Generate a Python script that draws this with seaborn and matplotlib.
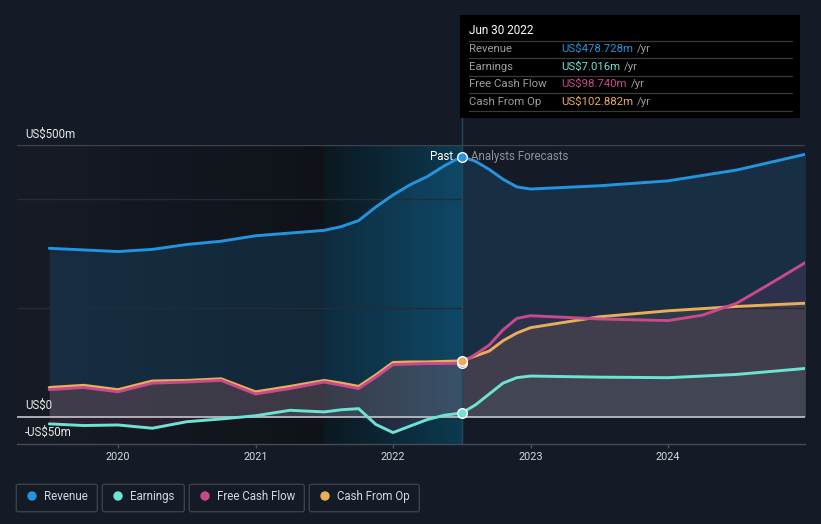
import numpy as np
import pandas as pd
import matplotlib
matplotlib.use("Agg")
import matplotlib.pyplot as plt
import seaborn as sns
from matplotlib.patches import FancyBboxPatch, Rectangle, Circle
from matplotlib.colors import LinearSegmentedColormap

# ---------------- data (US$ m) ----------------
past_years = [2019.5, 2019.75, 2020.0, 2020.25, 2020.5, 2020.75, 2021.0,
              2021.25, 2021.5, 2021.625, 2021.75, 2021.875, 2022.0, 2022.125,
              2022.25, 2022.375, 2022.5]
revenue_past = [310, 307, 304, 308, 317, 323, 333, 338, 343, 350, 361, 386, 408, 427,
                442, 462, 478.728]
earnings_past = [-13, -16, -15, -21, -9, -4, 2, 12, 9, 13, 15, -14, -29, -17,
                 -5, 3, 7.016]
fcf_past = [50, 54, 46, 62, 64, 67, 42, 52, 64, 58, 52, 73, 96, 97,
            98, 98, 98.740]
cfo_past = [54, 58, 50, 66, 67, 70, 46, 56, 67, 62, 56, 77, 100, 101,
            101, 102, 102.882]

fc_years = [2022.6, 2022.7, 2022.8, 2022.9, 2023.0, 2023.5, 2024.0, 2024.5, 2025.0]
revenue_fc = [470, 455, 437, 423, 419, 425, 434, 454, 483]
earnings_fc = [22, 42, 62, 72, 75, 73, 72, 78, 89]
cfo_fc = [112, 121, 140, 154, 164, 184, 195, 203, 209]
fcf_fc_years = [2022.6, 2022.7, 2022.8, 2022.9, 2023.0, 2023.5, 2024.0, 2024.25, 2024.5, 2024.75, 2025.0]
fcf_fc = [115, 132, 160, 181, 186, 180, 177, 187, 209, 246, 284]

tick_years = [2020, 2021, 2022, 2023, 2024]
tick_labels = ["2020", "2021", "2022", "2023", "2024"]
series_names = ["Revenue", "Earnings", "Free Cash Flow", "Cash From Op"]
tooltip_date = "Jun 30 2022"
tooltip_values = ["US$478.728m", "US$7.016m", "US$98.740m", "US$102.882m"]

# ---------------- style ----------------
BG = "#151b26"
C_REV = "#2394df"
C_EARN = "#6ee3d3"
C_FCF = "#c8498c"
C_CFO = "#e8ae5c"
colors = [C_REV, C_EARN, C_FCF, C_CFO]

sns.set_theme(style="dark")
plt.rcParams["font.family"] = ["Roboto", "DejaVu Sans"]

fig = plt.figure(figsize=(8.21, 5.24), dpi=100, facecolor=BG)
ax = fig.add_axes([17 / 821, 1 - 444 / 524, 788 / 821, 299 / 524])
ax.set_facecolor(BG)

X0, X1 = 2019.2655, 2024.996
Y0, Y1 = -50, 500

# background regions
grad = np.linspace(0, 1, 256).reshape(1, -1)
cm_left = LinearSegmentedColormap.from_list("l", ["#161b25", "#0f1319"])
cm_year = LinearSegmentedColormap.from_list("y", ["#0c1820", "#0b3a50"])
ax.imshow(grad, extent=[X0, 2021.5, Y0, Y1], cmap=cm_left, aspect="auto", zorder=0)
ax.imshow(grad, extent=[2021.5, 2022.5, Y0, Y1], cmap=cm_year, aspect="auto", zorder=0)

def full(px, py, fx, fy):
    return np.array(list(px) + list(fx)), np.array(list(py) + list(fy))

rx, ry = full(past_years, revenue_past, fc_years, revenue_fc)
ex, ey = full(past_years, earnings_past, fc_years, earnings_fc)
cx, cy = full(past_years, cfo_past, fc_years, cfo_fc)
fx, fy = full(past_years, fcf_past, fcf_fc_years, fcf_fc)

# fills
ax.fill_between(rx, ry, 0, color=C_REV, alpha=0.16, lw=0, zorder=1)
ey_on_f = np.interp(fx, ex, ey)
ax.fill_between(fx, fy, np.minimum(ey_on_f, 0), color=C_FCF, alpha=0.13, lw=0, zorder=1.1)
ax.fill_between(cx, cy, 0, color=C_CFO, alpha=0.10, lw=0, zorder=1.2)
ax.fill_between(ex, ey, 0, where=np.array(ey) > 0, color=C_EARN, alpha=0.05, lw=0, zorder=1.3)

# grid lines
ax.axhline(500, color="#3d424c", lw=1, zorder=1.5)
ax.axhline(400, color="#262c37", lw=1, zorder=1.5)
ax.axhline(200, color="#262c37", lw=1, zorder=1.5)
ax.axhline(0, color="#c4c6ca", lw=1.2, zorder=2.5)

# vertical "now" line
ax.axvline(2022.5, ymin=0, ymax=(444 - 118) / 299, color="#1f4a5c", lw=1, zorder=1.6, clip_on=False)

# lines via seaborn
for xs, ys, c in [(rx, ry, C_REV), (cx, cy, C_CFO), (fx, fy, C_FCF), (ex, ey, C_EARN)]:
    sns.lineplot(x=xs, y=ys, ax=ax, color=c, lw=2.1, zorder=3, sort=True,
                 solid_joinstyle="round", solid_capstyle="round")

# markers at Jun 30 2022
for v, c in [(revenue_past[-1], C_REV), (fcf_past[-1], C_FCF), (cfo_past[-1], C_CFO), (earnings_past[-1], C_EARN)]:
    ax.scatter([2022.5], [v], s=48, color=c, edgecolor="white", linewidth=1.0, zorder=5)

ax.annotate("Past", (2022.5, revenue_past[-1]), xytext=(-6.5, 0), textcoords="offset points",
            ha="right", va="center", color="white", fontsize=8.3, zorder=6)
ax.annotate("Analysts Forecasts", (2022.5, revenue_past[-1]), xytext=(6.5, 0), textcoords="offset points",
            ha="left", va="center", color="#8f949b", fontsize=8.3, zorder=6)

ax.set_xlim(X0, X1)
ax.set_ylim(Y0, Y1)
ax.set_xticks(tick_years)
ax.set_xticklabels(tick_labels)
ax.set_yticks([])
ax.tick_params(axis="x", colors="#4a4f58", labelcolor="#d6d8dc", labelsize=7.8,
               length=3, width=1, direction="out", pad=3, bottom=True)
for s in ["top", "right", "left"]:
    ax.spines[s].set_visible(False)
ax.spines["bottom"].set_color("#464b55")
ax.spines["bottom"].set_linewidth(1)
ax.set_xlabel("")
ax.set_ylabel("")
ax.grid(False)

# y labels
ytr = ax.get_yaxis_transform()
lx = (25 - 17) / 788
ax.annotate("US$500m", (lx, 500), xycoords=ytr, xytext=(0, 3), textcoords="offset points",
            ha="left", va="bottom", color="#e8e8e8", fontsize=8.3, annotation_clip=False)
ax.annotate("US$0", (lx, 0), xycoords=ytr, xytext=(0, 3.5), textcoords="offset points",
            ha="left", va="bottom", color="#e8e8e8", fontsize=8.3, annotation_clip=False)
ax.annotate("-US$50m", (lx, -50), xycoords=ytr, xytext=(0, 3.5), textcoords="offset points",
            ha="left", va="bottom", color="#e8e8e8", fontsize=8.3, annotation_clip=False)

# ---------------- overlay (tooltip + legend) in pixel coords ----------------
ov = fig.add_axes([0, 0, 1, 1], zorder=10)
ov.set_xlim(0, 821)
ov.set_ylim(524, 0)
ov.axis("off")
ov.patch.set_alpha(0)

ov.add_patch(Rectangle((460, 15), 340, 103, facecolor="black", edgecolor="none"))
ov.text(469, 30, tooltip_date, color="white", fontsize=8.5, va="center", ha="left")
for yy in [41, 58.3, 76, 93.3, 111.3]:
    ov.plot([469, 792], [yy, yy], color="#3a3a3a", lw=0.9)
row_y = [49.3, 66.7, 84.3, 101.7]
fig.canvas.draw()
renderer = fig.canvas.get_renderer()
for name, val, c, yy in zip(series_names, tooltip_values, colors, row_y):
    ov.text(469, yy, name, color="#9a9da3", fontsize=8.2, va="center", ha="left")
    t = ov.text(561, yy, val, color=c, fontsize=8.2, va="center", ha="left")
    bb = t.get_window_extent(renderer=renderer)
    x_end = bb.x1 * 821 / fig.bbox.width
    ov.text(x_end + 4, yy, "/yr", color="#9a9da3", fontsize=8.2, va="center", ha="left")

# legend boxes
boxes = [(16.3, 97.3), (102.3, 184.3), (189.3, 304.3), (309.3, 419.3)]
for (b0, b1), name, c in zip(boxes, series_names, colors):
    ov.add_patch(FancyBboxPatch((b0, 484.3), b1 - b0, 27.4,
                                boxstyle="round,pad=0,rounding_size=2",
                                facecolor="none", edgecolor="#3c404a", lw=1))
    ov.add_patch(Circle((b0 + 15.7, 496), 4, color=c))
    ov.text(b0 + 28, 496.5, name, color="#d6d8dc", fontsize=8.3, va="center", ha="left")

fig.savefig("out.png", dpi=100, facecolor=BG)
